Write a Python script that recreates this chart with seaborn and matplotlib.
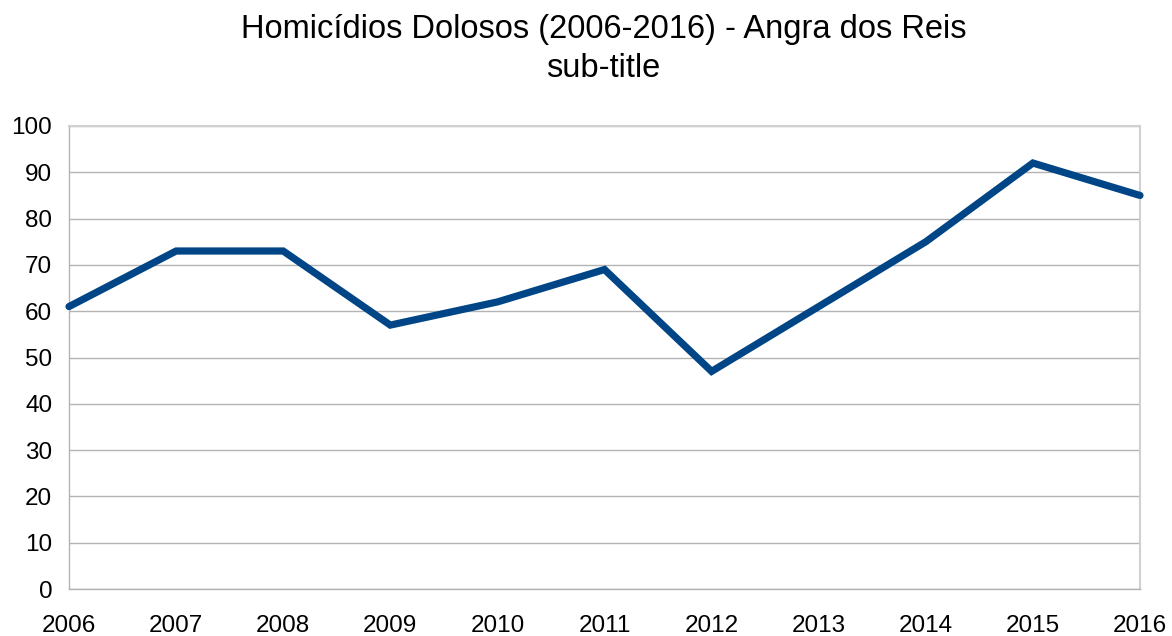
import numpy as np
import pandas as pd
import seaborn as sns
import matplotlib.pyplot as plt

# data
anos = [2006, 2007, 2008, 2009, 2010, 2011, 2012, 2013, 2014, 2015, 2016]
homicidios = [61, 73, 73, 57, 62, 69, 47, 61, 75, 92, 85]
y_ticks = list(range(0, 101, 10))

df = pd.DataFrame({"ano": anos, "homicidios": homicidios})

sns.set_style("white")
plt.rcParams["font.family"] = ["Liberation Sans", "DejaVu Sans"]

fig = plt.figure(figsize=(11.72, 6.36), dpi=100)
ax = fig.add_axes([69 / 1172, 1 - 589 / 636, (1140 - 69) / 1172, (589 - 126) / 636])

sns.lineplot(data=df, x="ano", y="homicidios", ax=ax, color="#004586",
             linewidth=5.2, solid_joinstyle="miter", clip_on=False, zorder=3)

ax.set_xlim(anos[0], anos[-1])
ax.set_ylim(0, 100)
ax.set_xticks(anos)
ax.set_yticks(y_ticks)
ax.set_xlabel("")
ax.set_ylabel("")
ax.yaxis.grid(True, color="#b3b3b3", linewidth=1)
ax.xaxis.grid(False)

for side in ["left", "bottom"]:
    ax.spines[side].set_color("#b3b3b3")
    ax.spines[side].set_linewidth(1)
for side in ["right", "top"]:
    ax.spines[side].set_visible(True)
    ax.spines[side].set_color("#d0d0d0")
    ax.spines[side].set_linewidth(1.5)

ax.tick_params(axis="both", which="major", length=8, width=1, color="#b3b3b3",
               labelsize=17.5, labelcolor="black", direction="out")
ax.tick_params(axis="x", pad=11)
ax.tick_params(axis="y", pad=4)

fig.text(0.515, 0.953, "Homicídios Dolosos (2006-2016) - Angra dos Reis",
         ha="center", va="center", fontsize=23.5, color="black")
fig.text(0.515, 0.893, "sub-title", ha="center", va="center", fontsize=23.5,
         color="black")

fig.savefig("out.png", dpi=100)
